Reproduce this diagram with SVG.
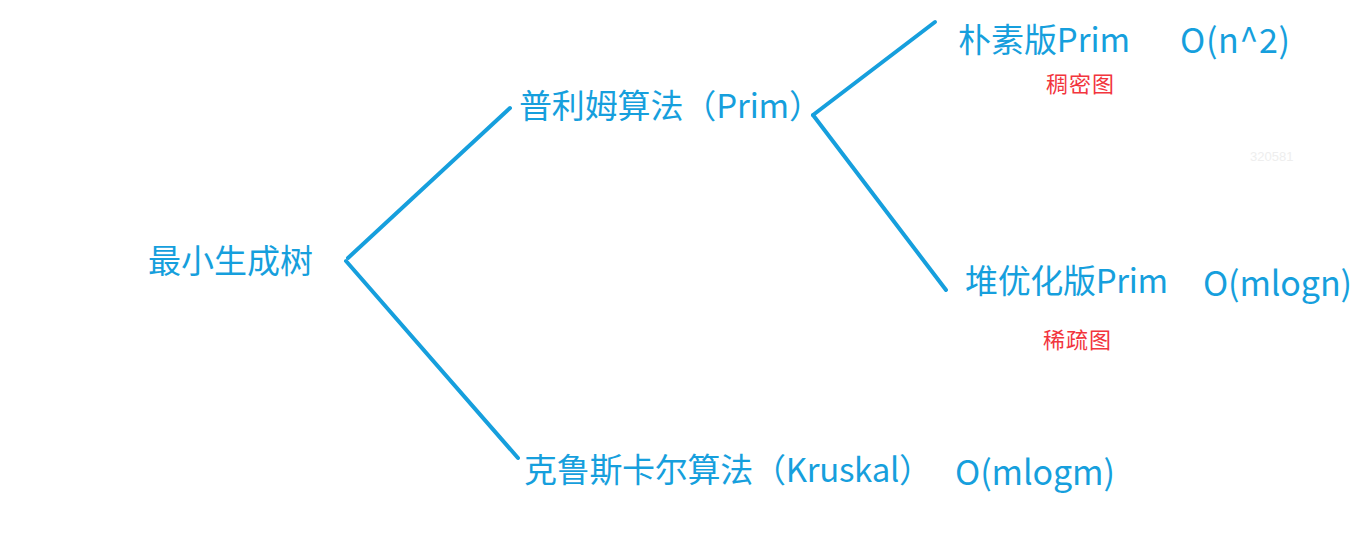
<svg xmlns="http://www.w3.org/2000/svg" width="1352" height="555" viewBox="0 0 1352 555">
<style>
.t{font-family:"Noto Sans CJK SC","Noto Sans",sans-serif;fill:#169fdd;font-size:33px}
.o{font-size:34px}
.r{font-family:"Noto Sans CJK SC","Noto Sans",sans-serif;fill:#f2353d;font-size:22px}
.w{font-family:"Liberation Sans",sans-serif;fill:#eeeeee;font-size:13px}
.c{stroke:#169fdd;stroke-width:4;stroke-linecap:round;fill:none}
</style>
<rect width="1352" height="555" fill="#ffffff"/>
<g id="connectors">
<path class="c" d="M348,258 L510,108"/>
<path class="c" d="M346,261 L518,458"/>
<path class="c" d="M813,115 L935,22"/>
<path class="c" d="M813,115 L946,290"/>
</g>
<g id="n-mst"><text class="t" x="148" y="273" textLength="165">最小生成树</text></g>
<g id="n-prim"><text class="t" x="519" y="118" textLength="303">普利姆算法（Prim）</text></g>
<g id="n-naive"><text class="t" x="958" y="52" textLength="172">朴素版Prim</text><text class="t o" x="1180" y="53" textLength="110">O(n^2)</text><text class="r" x="1046" y="92" textLength="68">稠密图</text></g>
<g id="n-heap"><text class="t" x="965" y="293" textLength="203">堆优化版Prim</text><text class="t o" x="1203" y="296" textLength="149">O(mlogn)</text><text class="r" x="1043" y="348" textLength="68">稀疏图</text></g>
<g id="n-kruskal"><text class="t" x="524" y="482" textLength="408">克鲁斯卡尔算法（Kruskal）</text><text class="t o" x="955" y="485" textLength="160">O(mlogm)</text></g>
<text class="w" x="1250" y="161">320581</text>
</svg>
